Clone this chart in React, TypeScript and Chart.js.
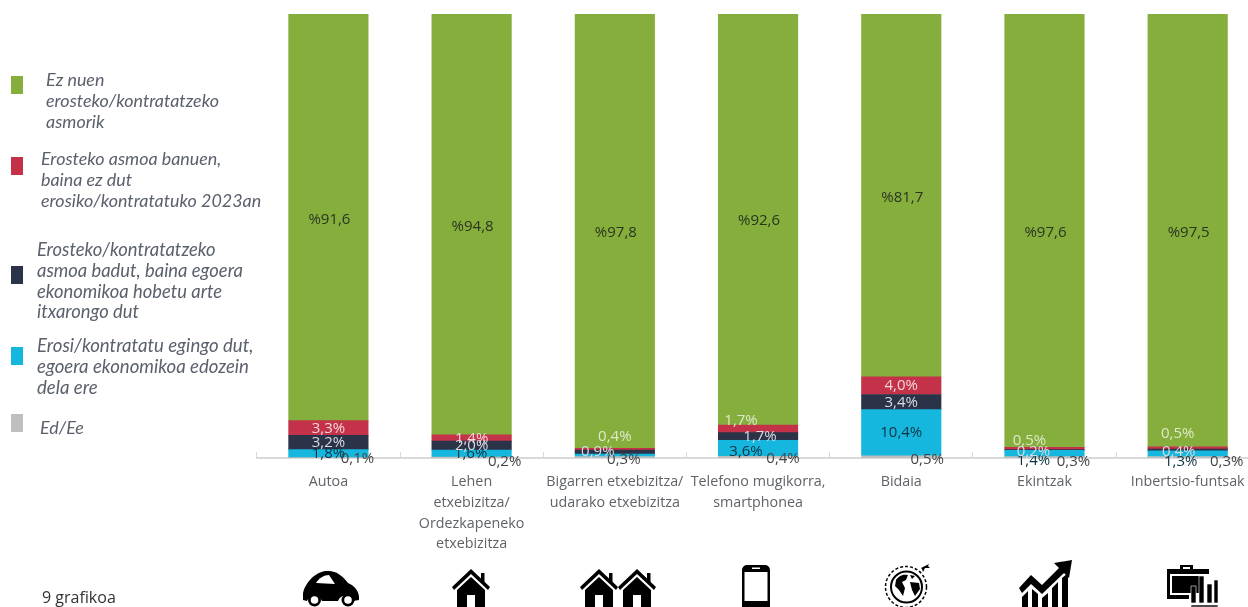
import React, { useEffect, useRef } from "react";
import { Chart, registerables } from "chart.js";

Chart.register(...registerables);

const categories: (string | string[])[] = [
  "Autoa",
  ["Lehen", "etxebizitza/", "Ordezkapeneko", "etxebizitza"],
  ["Bigarren etxebizitza/", "udarako etxebizitza"],
  ["Telefono mugikorra,", "smartphonea"],
  "Bidaia",
  "Ekintzak",
  "Inbertsio-funtsak",
];

const edEe = [0.1, 0.2, 0.3, 0.4, 0.5, 0.3, 0.3];
const erosi = [1.8, 1.6, 0.6, 3.6, 10.4, 1.4, 1.3];
const itxaron = [3.2, 2.0, 0.9, 1.7, 3.4, 0.2, 0.4];
const banuen = [3.3, 1.4, 0.4, 1.7, 4.0, 0.5, 0.5];
const ezNuen = [91.6, 94.8, 97.8, 92.6, 81.7, 97.6, 97.5];

const legendItems = [
  { color: "#86AE3D", swatchTop: 76, left: 46, top: 69, size: 17.9, lines: ["Ez nuen", "erosteko/kontratatzeko", "asmorik"] },
  { color: "#C33249", swatchTop: 157, left: 41, top: 148, size: 17.9, lines: ["Erosteko asmoa banuen,", "baina ez dut", "erosiko/kontratatuko 2023an"] },
  { color: "#2B3349", swatchTop: 266, left: 37, top: 239, size: 18.4, lines: ["Erosteko/kontratatzeko", "asmoa badut, baina egoera", "ekonomikoa hobetu arte", "itxarongo dut"] },
  { color: "#16B7DF", swatchTop: 347, left: 37, top: 335, size: 18.6, lines: ["Erosi/kontratatu egingo dut,", "egoera ekonomikoa edozein", "dela ere"] },
  { color: "#BFBFBF", swatchTop: 414, left: 40, top: 417, size: 17.9, lines: ["Ed/Ee"] },
];

// Label nudges (dx, dy in px from the centre of each segment), by dataset then category.
const nudges: [number, number][][] = [
  [[29, 1], [33, 4], [9, 2], [25, 2], [26, 3], [29, 4], [39, 4]],
  [[0, 0], [-1, 0], [0, 0], [-12, 4], [0, 0], [-11, 7], [-7, 8]],
  [[0, 0], [0, 0], [-17, 0], [2, 0], [0, 1], [-11, 2], [-9, 2]],
  [[0, 1], [0, 1], [0, -12], [-17, -8], [0, 0], [-15, -8], [-10, -14]],
  [[1, 2], [1, 2], [1, 2], [1, 1], [1, 2], [1, 2], [1, 2]],
];
const labelColors = ["#444444", "#0E3442", "#D9DBE2", "#F3D5DA", "#2A3520"];
const hiddenLabels = new Set(["1:2"]);

const fmt = (v: number) => v.toFixed(1).replace(".", ",");

const labelPlugin = {
  id: "segmentLabels",
  afterDatasetsDraw(chart: any) {
    const ctx = chart.ctx;
    ctx.save();
    ctx.font = '15px "Open Sans"';
    ctx.textAlign = "center";
    ctx.textBaseline = "middle";
    chart.data.datasets.forEach((ds: any, di: number) => {
      chart.getDatasetMeta(di).data.forEach((bar: any, i: number) => {
        if (hiddenLabels.has(`${di}:${i}`)) return;
        const p = bar.getCenterPoint();
        const [dx, dy] = nudges[di][i];
        let color = labelColors[di];
        if (di === 3 && dy < -5) color = "#DDE8C8";
        ctx.fillStyle = color;
        const v = ds.data[i];
        ctx.fillText(di === 4 ? `%${fmt(v)}` : `${fmt(v)}%`, p.x + dx, p.y + dy);
      });
    });
    ctx.restore();
  },
};

const Icon = ({ x, y, w, h, vb, children }: any) => (
  <svg
    style={{ position: "absolute", left: x, top: y, width: w, height: h, overflow: "visible" }}
    viewBox={vb}
    fill="#000"
  >
    {children}
  </svg>
);

const House = ({ x = 0 }: { x?: number }) => (
  <g transform={`translate(${x} 0)`}>
    <path d="M19 0 L38 18 L36 21 L19 5 L2 21 L0 18 Z" />
    <path d="M29 4h3.500v10L29 11Z" />
    <path d="M19 8 L33 21 V38 H23 V26 H15 V38 H5 V21 Z" />
  </g>
);

export default function App() {
  const ref = useRef<HTMLCanvasElement>(null);
  useEffect(() => {
    const mk = (label: string, data: number[], backgroundColor: string) => ({
      label,
      data,
      backgroundColor,
      barThickness: 79.5,
      borderWidth: 0,
    });
    const chart = new Chart(ref.current!, {
      type: "bar",
      data: {
        labels: categories as any,
        datasets: [
          mk("Ed/Ee", edEe, "#BFBFBF"),
          mk("Erosi/kontratatu egingo dut, egoera ekonomikoa edozein dela ere", erosi, "#16B7DF"),
          mk("Erosteko/kontratatzeko asmoa badut, baina egoera ekonomikoa hobetu arte itxarongo dut", itxaron, "#2B3349"),
          mk("Erosteko asmoa banuen, baina ez dut erosiko/kontratatuko 2023an", banuen, "#C33249"),
          mk("Ez nuen erosteko/kontratatzeko asmorik", ezNuen, "#86AE3D"),
        ],
      },
      options: {
        responsive: false,
        animation: false,
        layout: { padding: { left: 256.8, right: 10.7, top: 14, bottom: 0 } },
        plugins: { legend: { display: false }, tooltip: { enabled: false } },
        scales: {
          x: {
            stacked: true,
            afterFit: (s: any) => {
              s.height = 149;
            },
            border: { color: "#D9D9D9", width: 2 },
            grid: { drawOnChartArea: false, tickLength: -6, tickColor: "#D9D9D9", tickWidth: 1 },
            ticks: {
              autoSkip: false,
              maxRotation: 0,
              minRotation: 0,
              padding: 20,
              color: "#5F6368",
              font: { family: '"Open Sans"', size: 14.3, lineHeight: 1.44 },
            },
          },
          y: { stacked: true, display: false, min: 0, max: 100 },
        },
      } as any,
      plugins: [labelPlugin],
    });
    return () => chart.destroy();
  }, []);

  return (
    <div style={{ position: "absolute", left: 0, top: 0, width: 1248, height: 607, overflow: "hidden", background: "#fff", filter: "blur(0.4px)" }}>
      <canvas ref={ref} width={1270} height={607} style={{ position: "absolute", left: 0, top: 0, display: "block" }} />
      {legendItems.map((it) => (
        <React.Fragment key={it.color}>
          <div style={{ position: "absolute", left: 11, top: it.swatchTop, width: 12, height: 18, background: it.color }} />
          <div
            style={{
              position: "absolute",
              left: it.left,
              top: it.top,
              font: `italic ${it.size}px/20.8px Lato`,
              color: "#5A606C",
              whiteSpace: "nowrap",
            }}
          >
            {it.lines.map((l) => (
              <div key={l}>{l}</div>
            ))}
          </div>
        </React.Fragment>
      ))}
      <div style={{ position: "absolute", left: 42, top: 585, font: '16px/24px "Open Sans"', color: "#333", whiteSpace: "nowrap" }}>
        9 grafikoa
      </div>

      <Icon x={302} y={570} w={58} h={37} vb="0 0 58 37">
        <path d="M1 24 C2 15 12 2 24 1 C34 0 41 6 46 13 C53 16 58 22 57 30 L51 31 A8 8 0 0 0 36 31 H20 A8 8 0 0 0 5 31 L1 30 Z" />
        <path d="M14 13 C17 8 22 5 27 5 L33 14 Z" fill="#fff" />
        <circle cx="12.500" cy="30" r="6.500" />
        <circle cx="12.500" cy="30" r="3.800" fill="#fff" />
        <circle cx="46" cy="30" r="6.500" />
        <circle cx="46" cy="30" r="3.800" fill="#fff" />
      </Icon>
      <Icon x={452} y={569} w={38} h={38} vb="0 0 38 38">
        <House />
      </Icon>
      <Icon x={580} y={569} w={76} h={38} vb="0 0 76 38">
        <House />
        <House x={38} />
      </Icon>
      <Icon x={742} y={565} w={28} h={42} vb="0 0 28 42">
        <path d="M5 0 H23 A5 5 0 0 1 28 5 V42 H0 V5 A5 5 0 0 1 5 0 Z M2.500 7 V36 H25.500 V7 Z" fillRule="evenodd" />
        <rect x="10" y="2.500" width="8" height="1.500" fill="#fff" />
      </Icon>
      <Icon x={884} y={562} w={46} h={45} vb="0 0 46 45">
        <circle cx="22" cy="25" r="20.500" fill="none" stroke="#000" strokeWidth="1.500" strokeDasharray="3 2" />
        <circle cx="22.500" cy="25" r="15.500" fill="#fff" stroke="#000" strokeWidth="2" />
        <path d="M12 18 C15 13 20 12 24 13 L22 18 L18 20 L21 26 L19 34 L15 28 L11 24 Z M26 20 L35 21 L36 27 L31 34 L28 28 Z M26 13 L31 14 L28 17 Z" />
        <path d="M37 6 L45 2 L44 4 L46 6 L41 6 L39 10 L38 7 Z" />
      </Icon>
      <Icon x={1019} y={560} w={53} h={47} vb="0 0 53 47">
        <path d="M0 28 L12 15 L23 25 L40 8 L35 3 L53 0 L50 18 L45 13 L23 34 L12 24 L3 33 Z" />
        <path d="M3 37 L9 31 V47 H3 Z M13 29 L19 34 V47 H13 Z M23 38 L29 33 V47 H23 Z M33 28 L39 22 V47 H33 Z M43 18 L49 13 V47 H43 Z" />
      </Icon>
      <Icon x={1167} y={565} w={51} h={42} vb="0 0 51 42">
        <path d="M13 4 V0 H26 V4 H42 V9 H3 V30 H22 V34 H0 V4 Z M16 2 V4 H23 V2 Z" fillRule="evenodd" />
        <rect x="5" y="11" width="30" height="17" />
        <path d="M24 21 H29 V38 H24 Z M32 11 H37 V38 H32 Z M40 19 H45 V38 H40 Z M47 15 H51 V38 H47 Z M24 40 H51 V42 H24 Z" stroke="#fff" strokeWidth="0.600" />
      </Icon>
    </div>
  );
}
